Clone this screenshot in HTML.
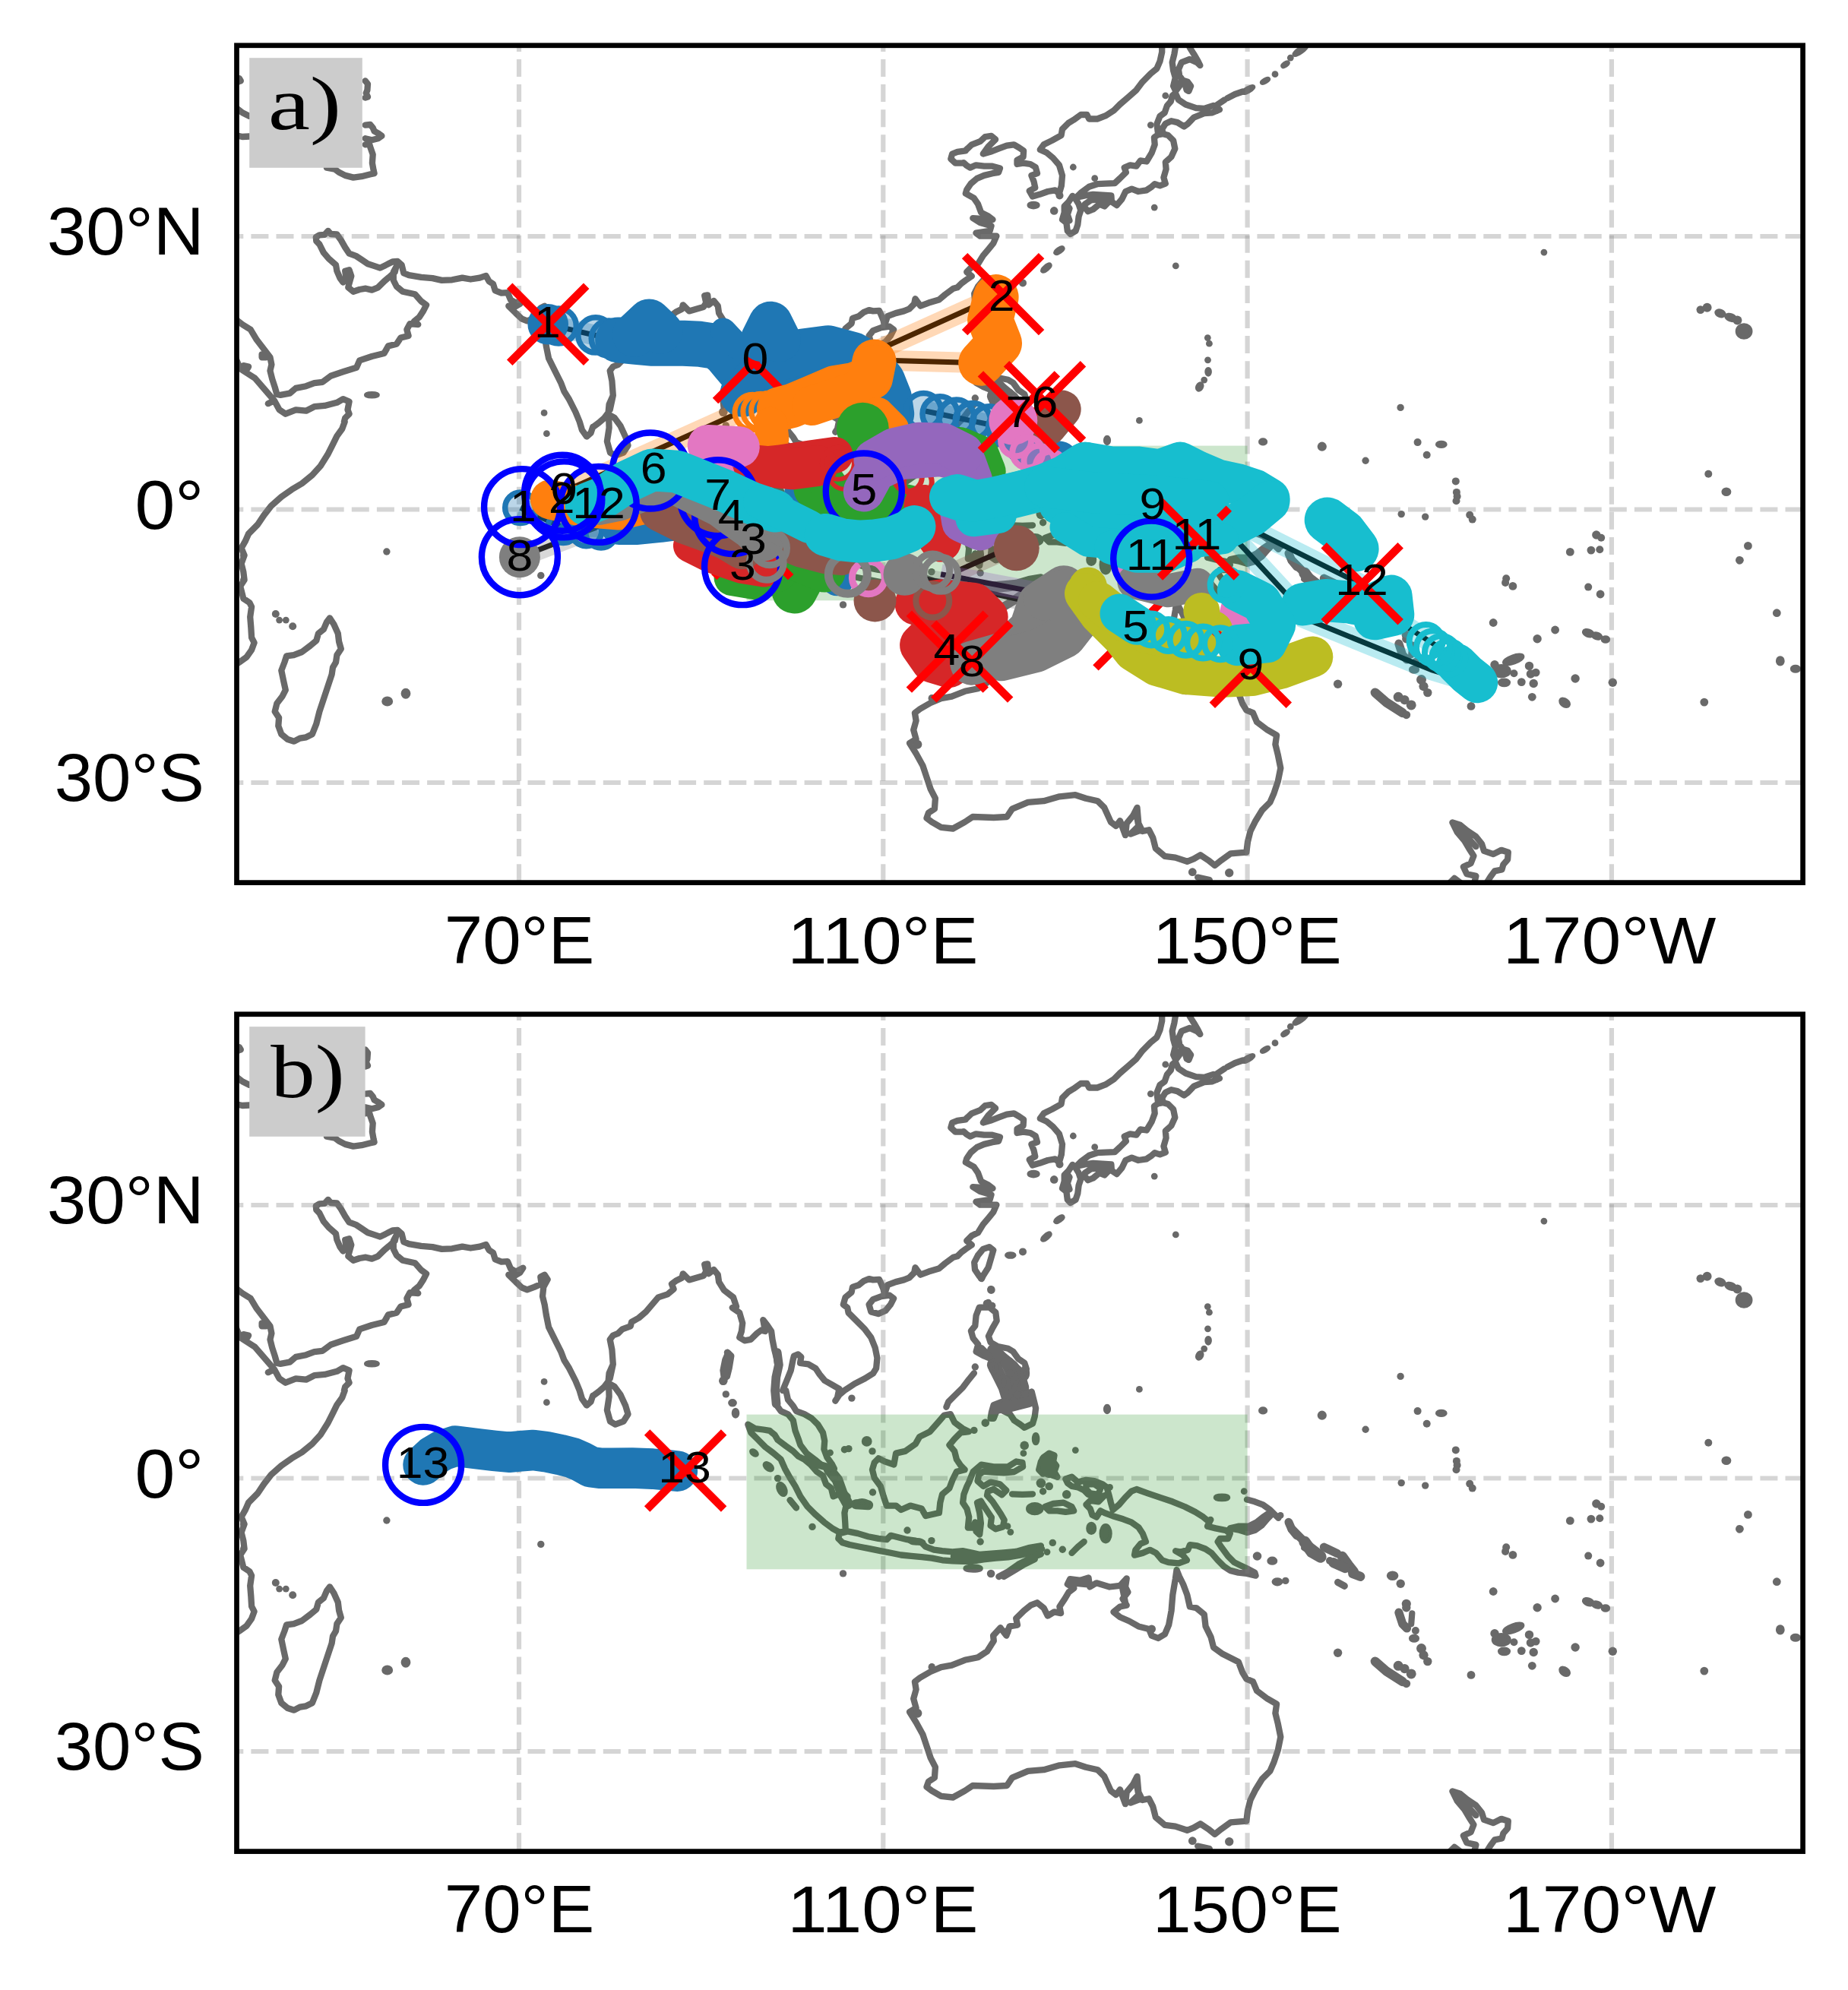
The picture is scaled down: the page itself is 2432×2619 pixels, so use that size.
<!DOCTYPE html>
<html><head><meta charset="utf-8"><title>figure</title>
<style>
html,body{margin:0;padding:0;background:#fff}
svg{display:block}
.c{fill:none;stroke:#696969;stroke-width:8.3;stroke-linejoin:round;stroke-linecap:round}
.e{fill:#696969;stroke:#696969;stroke-width:5}
.d{fill:#696969}
.g{fill:none;stroke:#808080;stroke-opacity:.33;stroke-width:6.2;stroke-dasharray:23 10.1}
.s{font-family:"Liberation Sans",sans-serif;fill:#000}
.f{font-family:"Liberation Serif",serif;fill:#000}
</style></head><body>
<svg width="2432" height="2619" viewBox="0 0 2432 2619">
<defs>
<clipPath id="clipa"><rect x="311.5" y="59.8" width="2061.1" height="1101.8"/></clipPath>
<clipPath id="clipb"><rect x="311.5" y="1334.8" width="2061.1" height="1101.8"/></clipPath>
<g id="coast">
<path class="c" d="M480.7,1381.4 484,1385.5 483.4,1393.6 481.8,1397.6 484,1402.5 480.7,1403.6M480.7,1439.6 487.2,1439 490.7,1443.1 492.6,1447.7 498.9,1451.2 502.4,1453.9 497.5,1457.2 489.4,1459.3 480.7,1457.2M480.7,1465.3 486.1,1464.7 488,1470.7 490.7,1478.3 489.9,1489.6 491.6,1499.1 492.6,1503.2 486.7,1504.5 475.9,1507.2 465,1508.6 454.2,1505.9 446.1,1501.8 440.7,1497.7 429.9,1495.6M310.3,1378.7 314.9,1378.2 316.8,1381.4 313.5,1382.8M310.3,1416.6 318.9,1423.3 328.4,1427.9M310.3,1453.1 318.9,1455 328.4,1454.5M416.3,1592.4 415.8,1587 420.4,1584.3 427.2,1583.8 431.8,1578.9 435.3,1583 443.4,1583.5 448.8,1591.1 454.2,1600.6 459.6,1608.7 469.1,1612.2 475.9,1616.8 484,1622.2 492.1,1624.9 500.2,1627.6 508.3,1623.6 516.5,1619.5 523.2,1619 528.6,1623.6 531.3,1634.4 538.1,1637.1 554.3,1639.8 569.2,1641.1 581.4,1643.9 594.9,1643.3 608.4,1640.6 619.3,1642.5 631.4,1640.6 639.6,1637.9 643.6,1645.2 649,1648.7 651.7,1657.4 659.8,1660.6 668,1660.1 672,1669.6 678.8,1673.6 688.3,1668.7 684.2,1675 677.4,1679 669.3,1677.7 678.8,1687.1 686.9,1694.7 693.7,1697.4 703.1,1693.9 712.6,1689.8 711.3,1680.4 716.7,1677.7 720.7,1683.9 715.3,1693.9 714,1706.1 716.7,1716.9 718.8,1730.4 722.1,1746.7 728.8,1760.2 732.9,1768.3 738.3,1779.1 742.4,1790 749.1,1800.8 757.3,1817 762.7,1830M416.3,1592.4 420.4,1596.5 425.8,1607.3 432.6,1615.4 442,1623.6 443.4,1631.7 447.5,1641.1 451.5,1646.6 455.6,1641.1 454.2,1631.7 459.6,1630.3 462.3,1638.4 459.6,1647.9 458.3,1653.3 465,1658.7 473.2,1656 481.3,1654.7 489.4,1656.6 497.5,1653.3 505.6,1645.2 513.7,1638.4 519.7,1633 521.3,1626.3 517.8,1633 517.8,1643.9 521.9,1652 530,1658.7 546.2,1662.3 554.3,1671.5 561.1,1676.3 557,1684.4 551.6,1692.6 544.9,1698 550.3,1702 539.4,1701.2 535.4,1708.8 537.6,1716.9 527.3,1719.6 521.9,1727.7 511,1730.4 505.6,1739.9 489.4,1744 473.2,1749.4 469.1,1758.8 451.5,1764.3 435.3,1769.7 424.5,1777.8 413.6,1779.1 402.8,1783.2 389.3,1785.9 381.2,1792.7 369,1794.8 364.4,1794 361.7,1784.5 358.2,1773.7 355.5,1762.9 357.4,1754.8 355.5,1745.3 347.3,1734.5 337.9,1722.3 329.8,1708.8 318.9,1702 310.3,1695.3M344.6,1741.3 350.1,1741.3 350.1,1745.3 344.6,1745.3 344.6,1741.3ZM310.3,1746.7 316.2,1760.2 324.4,1765.6 335.2,1772.4 344.6,1783.2 352.8,1792.7 360.9,1802.1 352.8,1806.2 360.9,1802.1 367.6,1814.3 375.8,1819.7 389.3,1814.3 402.8,1815.7 413.6,1810.2 427.2,1808.9 443.4,1804.8 451.5,1800.2 459.6,1803.5 457.5,1814.3 459.6,1819.7 454.2,1825.1 452.9,1830M320.3,1756.1 327.1,1757.5 325.7,1760.2 320.3,1758.8M802.7,1814.3 806.8,1795.4 805.4,1776.4 802.7,1762.9 806.8,1757.5 813.5,1754.8 818.9,1749.4 829.8,1745.3 831.1,1739.9 840.6,1734.5 850.1,1726.4 858.2,1716.9 866.3,1707.4 878.5,1703.4 886.6,1696.6 883.9,1689.8 889.3,1685.8 897.4,1681.7 898.8,1676.3 906.9,1684.4 916.3,1681.7 925.8,1679 929.3,1673.6 927.2,1664.1 931.2,1663.3 932.6,1676.3 939.3,1670.9 944.8,1677.7 946.1,1687.1 952.9,1698 965,1707.4 969.1,1719.6 963.7,1721 973.2,1727.7 977.2,1741.3 975.9,1752.1 973.2,1760.2 979.9,1764.3 988,1762.9 996.2,1754.8 1001.6,1750.7 1007,1752.1 1004.3,1737.2 1009.7,1744 1015.1,1752.1 1016.5,1762.9 1019.2,1776.4 1021.9,1787.3 1024,1800.8 1020.8,1812.4 1019.4,1830M1030,1830 1035.4,1817 1040.8,1803.5 1043.5,1790 1044.9,1784.5 1050.3,1782.4 1054.3,1785.9 1053,1794 1063.8,1795.4 1073.3,1800.8 1078.7,1808.9 1085.4,1817 1094.9,1822.4 1104.4,1827.8 1105.7,1830M1111.1,1830 1116.6,1826.5 1124.7,1821.1 1138.2,1814.3 1149,1807.5 1153.1,1800.8 1154.4,1787.3 1151.7,1773.7 1146.3,1760.2 1138.2,1749.4 1127.4,1738.5 1116.6,1727.7 1115.2,1721 1109.8,1716.9 1112.5,1707.4 1120.6,1700.7 1122,1693.9 1130.1,1691.2 1136.9,1685.8 1143.6,1683.1 1149,1684.4 1157.1,1683.9 1159.8,1689.8 1162.6,1696.6 1163.9,1703.4 1168,1691.2 1178.8,1687.1 1189.6,1684.4 1196.4,1681.7 1203.1,1675 1204.5,1668.2 1211.3,1677.7 1222.1,1673.6 1235.6,1669.6 1243.7,1662.8 1254.5,1654.7 1260,1653.3M1143.6,1716.9 1149,1710.1 1159.8,1706.1 1170.7,1704.7 1176.1,1708.8 1172,1716.9 1165.3,1725 1155.8,1729.1 1146.3,1726.4 1143.6,1716.9ZM1270.8,1473.4 1260,1474.8 1253.2,1477.5 1251.3,1484.2 1257.3,1489.6 1268.1,1489.6M958.3,1780.5 962.3,1784.5 959.6,1800.8 956.9,1811.6 952.9,1814.3 951.5,1803.5 954.2,1790 958.3,1780.5ZM1270.8,1472.9 1278.9,1465.3 1289.8,1461.2 1296.5,1455 1304.6,1453.9 1310.1,1458.5 1300.6,1468 1293.8,1477.5 1303.3,1474.8 1314.1,1470.7 1324.9,1466.6 1334.4,1465.3 1341.2,1469.3 1347.1,1473.4 1346.6,1481.5 1338.5,1485.6 1338.5,1491 1346.6,1489.6 1356,1491 1362.8,1495 1365,1503.2 1357.4,1505.9 1360.6,1514 1362.3,1522.1 1354.7,1526.2 1358.8,1533.5 1368.2,1530.8 1379,1527 1388.5,1525.3 1393.9,1529.7 1396.9,1519.4 1398,1505.9 1393.9,1492.3 1385.8,1482.9 1377.7,1476.1 1368.8,1472 1373.6,1465.3 1384.5,1459.9 1396.6,1453.1 1398,1445 1406.1,1436.9 1412.9,1432.8 1422.3,1426 1430.5,1426 1433.2,1431.5 1444,1431.5 1454.8,1427.4 1465.6,1420.6 1473.7,1412.5 1484.6,1403.1 1495.4,1393.6 1503.5,1382.8 1514.3,1371.9 1522.4,1365.2 1526.5,1355.7 1529.2,1343.5 1529.2,1337.6M1268.1,1489.1 1272.2,1492.9 1276.8,1495.6 1284.4,1492.3 1295.2,1493.7 1306,1493.7 1316,1496.4 1314.1,1501.8 1306,1503.2 1295.2,1505.9 1285.7,1509.9 1277.6,1516.7 1272.2,1524.8 1270.8,1529.7 1281.6,1535.6 1287.1,1543.7 1291.1,1554.6 1300.6,1559.4 1306.5,1564 1295.2,1563.2 1280.3,1562.1 1289.8,1568.1 1304.6,1572.2 1302.7,1578.9 1284.4,1581.6 1289.8,1585.7 1311.4,1585.7 1307.3,1595.2 1300.6,1603.3 1293.8,1611.4 1287.1,1622.2 1278.9,1626.3 1272.2,1633 1278.9,1638.4 1270.8,1643.9 1265.4,1647.9 1260,1653.3M1301.9,1641.1 1307.3,1645.2 1304.6,1654.7 1300.6,1668.2 1293.8,1679 1291.9,1683.1 1288.4,1679 1283,1670.9 1282.2,1661.4 1287.1,1652 1293.8,1643.9 1301.9,1641.1ZM1411.5,1532.9 1406.1,1541 1400.7,1546.5 1400.7,1554.6 1398,1564 1403.4,1568.1 1404.8,1578.9 1408.8,1583 1415.6,1578.9 1418.3,1570.8 1419.6,1560 1422.3,1551.9 1419.6,1543.7 1415.6,1537 1411.5,1532.9ZM1403.4,1543.7 1407.5,1549.2 1404.8,1557.3 1407.5,1565.4M1415.6,1535.6 1422.3,1528.9 1433.2,1520.7 1444,1517.2 1454.8,1516.7 1467,1516.1 1473.7,1509.9 1481.9,1501.8 1479.7,1495.6 1487.3,1492.3 1495.4,1493.7 1500.8,1486.4 1508.9,1487.5 1515.7,1476.1 1519.7,1465.3 1518.9,1455.8 1523.8,1452.3 1530.6,1451.2 1537.3,1453.1 1544.1,1459.9 1546.3,1470.7 1541.4,1481.5 1533.8,1488.3 1534.6,1497.7 1531.4,1508.6 1533.8,1516.7 1526.5,1519.4 1519.7,1517.2 1515.7,1520.7 1508.9,1525.3 1498.1,1527 1489.4,1523.7 1481.3,1527 1476.5,1537 1469.7,1545.1 1462.9,1540.5 1462.4,1532.4 1450.7,1531.6 1438.6,1530.8 1427.7,1532.4 1419.6,1534.3 1415.6,1535.6ZM1427.7,1543.7 1435.9,1538.3 1449.4,1537 1460.2,1539.7 1453.5,1546.5 1446.7,1543.7 1438.6,1550.5 1431.8,1553.2 1426.4,1546.5 1427.7,1543.7ZM1542.7,1400.9 1546.8,1397.6 1550.9,1406.3 1560.3,1412.5 1573.9,1417.1 1584.7,1417.9 1596.9,1413.9 1605,1419.3 1595.5,1423.3 1584.7,1424.2 1571.1,1429.6 1563,1438.2 1558.2,1441.5 1549.5,1436.1 1541.4,1434.2 1533.8,1437.7 1529.2,1445 1530.6,1450.4 1523.8,1449 1522.4,1438.2 1526.5,1427.9 1532.7,1423.3 1536,1413.9 1540.8,1408.5 1542.7,1400.9ZM1546.8,1337.6 1545.4,1346.2 1542.7,1357.1 1544.1,1367.9 1546.8,1377.3 1544.1,1388.2 1547.3,1394.9 1552.2,1388.2 1554.9,1380.1 1563,1382.8 1567.1,1388.2 1564.4,1394.9 1561.7,1393.6 1559,1384.1 1552.2,1374.6 1550.9,1366.5 1554.9,1357.1 1565.7,1353 1575.2,1357.1 1579.3,1361.1 1576.6,1355.7 1571.1,1346.2 1565.7,1337.6M1599.6,1414.4 1611.7,1406.3M1615,1404.4 1625.3,1399 1635.5,1395.5M453.7,1830 450.2,1839.5 443.4,1848.9 438,1859.8 431.2,1873.3 421.8,1888.2 410.9,1900.3 397.4,1911.2 383.9,1919.3 370.3,1928.8 356.8,1940.9 347.3,1953.1 339.2,1965.3 333.8,1970.7 327.1,1977.5 323,1986.9 317.6,1996.4 321.6,2005.9 317.6,2016.7 320.3,2027.5 321.6,2038.3 316.2,2046.5 320.3,2062.7 328.4,2068.1 331.1,2073.5 329.2,2087 330.3,2100.6 331.1,2114.1 334.6,2120.9 331.1,2130.3 324.4,2139.8 314.9,2146.6 310.3,2149.3M433.9,2088.4 439.3,2096.5 444.8,2108.7 446.1,2119.5 448.8,2129 443.4,2137.1 442,2146.6 438,2153.3 436.6,2162.8 431.2,2179 425.8,2195.3 420.4,2211.5 416.3,2227.7 410.9,2241.3 402.8,2245.3 394.7,2246.7 387.1,2250.7 378.5,2248 370.3,2241.3 366.3,2230.4 367.1,2219.6 361.7,2211.5 364.4,2200.7 371.7,2191.2 375.8,2183.1 373.1,2170.9 370.3,2157.4 374.4,2146.6 377.1,2138.4 386.6,2137.1 397.4,2133 408.2,2124.9 416.3,2118.1 419,2108.7 425.8,2103.3 429.9,2093.8 433.9,2088.4ZM762.7,1830 765.9,1840.8 772.1,1849.5 777.5,1844.9 780.2,1836.8M780,1837.4 788.1,1831.4 794.9,1825.5 800.6,1817.9 801.6,1807.1 806.8,1795.4M801.1,1820.6 808.4,1824.6 816.5,1835.5 823.3,1850.3 826.5,1861.2 820.6,1870.6 809.8,1874.7 803,1870.6 798.9,1855.8 801.6,1838.2 801.1,1820.6ZM957.2,1780 958.6,1788.1 955.9,1801.6 953.2,1809.8M1019.4,1830.1 1020.8,1847.6 1027.6,1857.1 1037,1861.2 1043.8,1869.3 1046.5,1882.8 1050.6,1893.6 1053.3,1901.8 1061.4,1912.6 1072.2,1920.7 1080.3,1927.5 1088.4,1931.5 1095.2,1936.9 1097.9,1932.9 1095.2,1927.5 1088.4,1918 1084.4,1907.2 1085.2,1896.3 1083,1885.5 1076.3,1874.7 1068.1,1866.6 1058.7,1861.2 1047.9,1857.1 1043.8,1850.3 1037,1842.2 1034.3,1830.1 1030,1830.1M1104.4,1827.9 1102,1839.5 1099.3,1843.6 1104.7,1835.5 1111.2,1830.1M984.3,1874.7 993.7,1880.1 1004.6,1881.5 1012.7,1882.8 1019.4,1888.2 1023.5,1895 1034.3,1903.1 1043.8,1909.9 1050.6,1916.6 1058.7,1920.7 1066.8,1927.5 1074.9,1936.9 1083,1942.3 1087.1,1953.2 1093.9,1958.6 1096.6,1969.4 1103.3,1966.7 1110.1,1964 1115.5,1969.4 1114.1,1978.9 1111.4,1991 1112.3,2004.6 1112.8,2015.4 1104.7,2016.7 1095.2,2011.3 1084.4,2003.2 1073.6,1993.7 1062.7,1982.9 1053.3,1969.4 1046.5,1955.9 1039.7,1945 1033,1932.9 1027.6,1920.7 1018.1,1912.6 1007.3,1904.5 996.5,1893.6 988.3,1885.5 984.3,1874.7ZM1039.7,1974.3 1047.9,1984.3M1103.3,2024.9 1104.7,2018.1 1115.5,2015.4 1129,2018.1 1142.6,2022.2 1156.1,2024.9 1166.9,2026.2 1172.3,2020.8 1183.1,2023.5 1194,2026.2 1204.8,2027.6 1212.9,2030.3 1218.3,2035.7 1229.1,2039.7 1240,2041.1 1253.5,2042.4 1267,2041.1 1280,2043.8M1103.3,2024.9 1108.7,2030.3 1118.2,2033 1131.7,2035.7 1145.3,2038.4 1158.8,2041.1 1172.3,2043.8 1185.8,2046.5 1199.4,2047.9 1212.9,2049.2 1226.4,2050.6 1240,2053.3 1253.5,2054.4 1267,2054.9 1280,2054.9M1156.1,1919.3 1164.2,1923.4 1176.4,1927.5 1179.1,1912.6 1191.3,1909.9 1204.8,1900.4 1210.2,1890.9 1223.7,1884.2 1234.5,1872 1242.7,1862.5 1250.8,1861.2 1256.2,1872 1267,1880.1 1275.1,1884.2 1264.3,1885.5 1256.2,1893.6 1249.4,1901.8 1256.2,1909.9 1258.9,1920.7 1264.3,1928.8 1269.7,1934.2 1258.9,1936.9 1253.5,1947.7 1249.4,1958.6 1240,1966.7 1237.3,1977.5 1235.9,1991 1223.7,1993.7 1218.3,1995.1 1212.9,1985.6 1198,1981.6 1185.8,1987 1179.1,1981.6 1166.9,1981.6 1162.8,1969.4 1158.8,1955.9 1150.7,1945 1148,1934.2 1150.7,1924.8 1156.1,1919.3ZM1288.7,1720.6 1302.2,1720.6 1310.3,1727.3 1311.7,1738.2 1306.3,1747.6 1300.9,1758.5 1303.6,1766.6 1313.1,1772 1326.6,1774.7 1333.3,1778.8 1340.1,1788.2 1348.2,1793.6 1350.9,1801.8 1346.9,1807.2 1337.4,1799 1329.3,1790.9 1318.5,1788.2 1307.6,1782.8 1300.9,1786.9 1294.1,1784.2 1284.6,1778.8 1287.3,1769.3 1280.6,1761.2 1277.9,1751.7 1283.3,1744.9 1284.6,1731.4 1288.7,1720.6ZM1304.9,1858.6 1307.6,1849.1 1318.5,1845 1329.3,1842.3 1340.1,1838.3 1350.9,1834.2 1357.7,1831.5 1360.4,1842.3 1363.1,1853.2 1361.8,1864 1359,1873.5 1348.2,1878.9 1342.8,1874.8 1334.7,1869.4 1329.3,1861.3 1321.2,1857.2 1313.1,1853.2 1307.6,1866.7 1303.6,1866.7 1304.9,1858.6ZM1281.9,1807.2 1275.2,1815.3 1267.1,1826.1 1256.2,1836.9 1248.1,1845 1245.4,1851.8M1275.2,1950.6 1280.6,1937 1291.4,1927.6 1307.6,1930.3 1326.6,1930.3 1337.4,1923.5 1345.5,1924.9 1346.1,1930.3 1334.7,1937 1321.2,1938.4 1307.6,1937.6 1294.1,1936.5 1288.2,1941.1 1286.5,1949.2 1294.1,1956 1303.6,1950.6 1315.8,1953.3 1324.4,1961.4 1318.5,1967.3 1307.6,1960 1300.1,1962.7 1299,1968.1 1306.3,1976.3 1311.7,1984.4 1317.1,1992.5 1321.7,2000.6 1319.8,2009.5 1310.3,2012.3 1303.6,2007.9 1304.9,1997.1 1299.5,1989 1294.1,1980.9 1290.9,1975.5 1286,1977.6 1289.2,1991.1 1290.9,2004.7 1289.2,2019.6 1284.6,2015.5 1283.3,2003.3 1280.6,2010.6 1273.8,2010.6 1275.2,1996.6 1272.5,1985.7 1267.1,1977.6 1268.4,1966.8 1272.5,1956 1275.2,1950.6ZM1332,1966.3 1345.5,1966.8 1359,1966.3M1380.7,1912.7 1387.5,1915.4 1386.1,1923.5 1390.2,1928.9 1387.5,1937 1391.5,1943.8 1383.4,1941.1 1378,1934.3 1372.6,1939.7 1367.2,1934.3 1369.9,1923.5 1375.3,1916.7 1380.7,1912.7ZM1378,1918.1 1379.3,1934.3M1375.3,1983 1386.1,1979 1399.6,1977.6 1410.5,1983 1413.2,1988.4 1402.3,1989.8 1391.5,1988.4 1380.7,1988.4 1375.3,1983ZM1402.3,1946.5 1410.5,1943.8 1418.6,1950.6 1429.4,1947.9 1440.2,1949.2 1451,1953.3 1456.5,1957.3 1459.2,1966.8 1461.9,1977.6 1464.6,1987.1 1472.7,1980.3 1480.8,1970.9 1488.9,1962.7 1495.7,1960 1510.6,1965.4 1526.8,1970.9 1543,1976.3 1559.3,1983 1572.8,1989.8 1583.6,1996.6 1591.7,2003.3 1589,2008.7 1599.8,2011.4 1613.4,2014.1 1618.8,2018.2 1616.1,2025 1605.3,2025 1602.6,2029 1608,2037.1 1616.1,2048 1624.2,2056.1 1632.3,2060.1 1641,2064.2 1651.3,2069.6 1652.6,2073.7 1641,2071 1629.6,2069.6 1618.8,2066.9 1610.7,2061.5 1602.6,2053.4 1594.4,2043.9 1586.3,2038.5 1575.5,2034.4 1566,2033.1 1563.3,2039.8 1553.9,2042.6 1547.1,2041.2 1556.6,2046.6 1562,2053.4 1551.1,2057.4 1537.6,2056.1 1529.5,2053.4 1521.4,2043.9 1513.3,2039.8 1503.8,2043.9 1493,2046.6 1494.3,2039.8 1501.1,2031.7 1507.9,2029 1503.8,2018.2 1498.4,2010.1 1488.9,2003.3 1478.1,1999.3 1464.6,1995.2 1453.7,1991.1 1448.3,1988.4 1442.9,1996.6 1437.5,1993.9 1434.8,1985.7 1429.4,1980.3 1434.8,1974.9 1445.6,1976.3 1453.7,1968.1 1448.3,1970.9 1440.2,1969.5 1432.1,1966.8 1426.7,1961.4 1418.6,1957.3 1410.5,1956 1405,1951.9 1402.3,1946.5ZM1429.4,1953.3 1440.2,1953.3 1448.3,1958.7 1445.6,1966.8 1434.8,1965.4 1429.4,1960 1429.4,1953.3ZM1641,1973.6 1651.3,1976.3 1662.1,1980.3 1671.5,1987.1 1678.3,1993.9 1682.4,1997.9M1618.8,2011.4 1629.6,2013.3 1641,2016.9 1651.3,2014.1 1660.7,2007.4 1667.5,1999.3 1672.9,1993.9 1670.2,1991.1 1662.1,1996.6 1654,2003.3 1643.1,2008.7 1629.6,2008.7 1618.8,2011.4ZM1280,2043.9 1288.7,2045.8 1304.9,2044.7 1321.2,2043.4 1337.4,2042 1353.6,2037.1 1369.9,2034.4M1280,2054.7 1294.1,2052.3 1310.3,2050.7 1326.6,2049.3 1342.8,2046.6 1359,2042.6 1371.2,2038.5M1314.4,2075 1326.6,2068.3 1340.1,2058.8 1356.3,2050.7 1369.9,2045.3M1321.2,2075 1334.7,2066.9 1348.2,2058.8 1361.8,2052M1410.5,2043.9 1418.6,2035.8 1426.7,2029M1203.9,2213.2 1210.8,2208 1224.7,2200 1238.5,2194.1 1252.4,2191.7 1269.7,2184.8 1287,2181.3 1299.1,2173.3 1307.8,2159.5 1307.1,2152.6 1316.5,2142.2 1324.4,2152.6 1328.6,2140.4 1339,2138.7 1337.2,2130 1347.6,2119.7 1356.3,2112.7 1364.9,2109.3 1373.6,2116.2 1378.8,2126.6 1387.4,2121.4 1396.1,2123.1 1394.4,2114.5 1401.3,2104.1 1406.5,2095.4 1413.4,2090.2 1404.8,2085 1408.2,2078.1 1422.1,2079.8 1432.5,2076.4 1434.2,2088.5 1442.9,2083.3 1460.2,2088.5 1474,2086.8 1482.7,2077.4 1481,2088.5 1484.4,2095.4 1477.5,2104.1 1482.7,2112.7 1474,2114.5 1465.4,2121.4 1474,2128.3 1486.1,2133.5 1498.3,2140.4 1512.1,2143.9 1515.6,2152.6 1524.2,2156 1532.9,2150.8 1538.1,2138.7 1541.6,2119.7 1543.3,2098.9 1546.8,2078.1 1548.5,2066 1551.9,2074.6 1557.1,2085 1562.3,2098.9 1565.8,2114.5 1574.5,2116.2 1584.8,2124.8 1586.6,2140.4 1593.5,2154.3 1597,2168.1 1609.1,2176.8 1619.5,2182 1629.9,2187.2 1635.1,2201 1640.3,2209.7 1648.9,2213.2 1654.1,2225.3 1668,2235.7 1680.1,2242.6 1678.4,2254.7 1681.8,2268.6 1685.3,2285.9 1681.8,2303.2 1676.6,2318.8 1671.4,2330.9 1661,2341.3 1652.4,2355.2 1645.5,2369 1642,2382.9 1640.3,2396.7 1619.5,2398.4 1607.4,2407.1 1598.7,2414 1590,2407.1 1579.7,2400.2 1571,2405.4 1562.3,2408.8 1546.8,2403.6 1532.9,2401.9 1520.8,2391.5 1517.3,2377.7 1512.1,2367.3 1503.5,2369 1498.3,2358.6 1496.5,2337.8 1491.3,2348.2 1482.7,2358.6 1481,2374.2 1474,2355.2 1468.8,2362.1 1461.9,2356.9 1453.2,2337.8 1444.6,2329.2 1429,2325.7 1415.2,2321.2 1394.4,2323.3 1373.6,2329.2 1352.8,2330.9 1332,2339.6 1325.1,2350 1307.8,2351 1280.1,2350 1269.7,2356.9 1254.1,2365.5 1238.5,2363.8 1226.4,2356.9 1219.5,2351.7 1221.9,2344.8 1229.9,2339.6 1230.9,2325.7 1224.7,2313.6 1219.5,2298 1214.3,2282.4 1205.6,2266.8 1197,2253 1205.6,2247.8 1202.2,2235.7 1205.6,2223.5 1203.9,2213.2ZM1494.8,2341.3 1498.3,2362.1 1487.9,2372.5 1501.7,2367.3M1576.2,2429.6 1591.8,2433.1M1477.5,2091.9 1481,2109.3M1411.7,2083.3 1429,2085M1911.4,2357.4 1921.6,2360.8 1931.1,2368.4 1942.4,2376 1950,2385.5 1953,2394.9 1965.2,2399.1 1975.8,2393.8 1984.8,2396.8 1984.1,2406.3 1978.4,2412.7 1976.5,2419.5 1967,2421.4 1961.4,2429 1954.5,2440M1911.4,2357.4 1917.8,2370.3 1927.3,2381.7 1934.1,2393 1939.4,2401.4 1935.6,2411.2 1925.8,2415.8 1930.3,2425.2 1942.4,2427.9 1939.4,2440M1921.6,2366.5 1942.4,2389.2M1906.4,2438.5 1914,2430.9 1921.6,2436.6 1923.5,2440"/>
<path class="c" style="stroke-width:11.7" d="M1022.7,1780 1024.9,1796.2 1021.3,1812.5 1020,1830.1 1021.6,1847.6"/>
<path class="c" style="stroke-width:14.6" d="M1091.1,1934.2 1102,1947.7 1108.7,1966.7 1115.5,1978.9"/>
<path class="c" style="stroke-width:10.2" d="M1066.8,1924.8 1091.1,1931.5"/>
<path class="c" style="stroke-width:13.1" d="M1126.3,1979.7 1142.6,1980.8"/>
<path class="c" style="stroke-width:8.8" d="M957.2,1780 958.6,1788.1 955.9,1801.6 953.7,1809.2"/>
<path class="c" style="stroke-width:8" d="M1039.7,1974.3 1047.9,1984.3"/>
<path class="c" style="stroke-width:8" d="M1198,2027.6 1214.3,2030.3"/>
<path class="c" style="stroke-width:17.5" d="M1307.6,1777.4 1318.5,1788.2 1332,1799 1341.5,1812.6 1345.5,1826.1 1344.2,1839.6"/>
<path class="c" style="stroke-width:17.5" d="M1307.6,1796.3 1315.8,1812.6 1322.5,1826.1 1326.6,1839.6"/>
<path class="c" style="stroke-width:14.6" d="M1323.9,1793.6 1332,1809.9 1336,1826.1 1337.4,1836.9"/>
<path class="c" style="stroke-width:14.6" d="M1313.1,1853.2 1332,1850.5 1353.6,1845"/>
<path class="c" style="stroke-width:9.5" d="M1291.4,1774.7 1302.2,1785.5"/>
<path class="c" style="stroke-width:19" d="M1376.6,1922.2 1380.7,1935.7"/>
<path class="c" style="stroke-width:11" d="M1695.9,2003.3 1700,2012.8 1706.7,2020.9"/>
<path class="c" style="stroke-width:9.5" d="M1710.8,2023.6 1724.3,2034.4 1740,2046.6"/>
<path class="c" style="stroke-width:8" d="M1716.2,2037.1 1727,2043.9"/>
<path class="c" style="stroke-width:11" d="M1256.2,2048.5 1294.1,2048.5 1329.3,2045.8 1359,2039.8"/>
<path class="c" style="stroke-width:11.2" d="M1700,2012.3 1713.3,2025.6"/>
<path class="c" style="stroke-width:15.3" d="M1717,2029.4 1726.5,2042.7 1737.9,2049.1"/>
<path class="c" style="stroke-width:11.2" d="M1742.4,2036.2 1759.8,2044.5"/>
<path class="c" style="stroke-width:13.3" d="M1766.3,2048.3 1775.8,2061.6 1781.4,2068.4"/>
<path class="c" style="stroke-width:13.3" d="M1754.9,2056.7 1770.1,2063.5"/>
<path class="c" style="stroke-width:12.3" d="M1780.3,2071.1 1790.2,2074.8"/>
<path class="c" style="stroke-width:9.2" d="M1760.6,2082.4 1769.3,2087.3"/>
<path class="c" style="stroke-width:12.3" d="M1809.8,2186.6 1825,2199.8 1845.8,2213.1"/>
<path class="c" style="stroke-width:11.2" d="M1840.9,2122.2 1845.8,2137.3 1851.5,2143"/>
<path class="c" style="stroke-width:8.2" d="M1858.3,2123.3 1857.2,2137.3"/>
<ellipse class="e" cx="489.4" cy="1794.8" rx="8" ry="2.3"/>
<ellipse class="e" cx="1360.1" cy="1545.1" rx="6.1" ry="2.8"/>
<ellipse class="e" cx="1642.8" cy="1393" rx="8" ry="2.3" transform="rotate(-30 1642.8 1393)"/>
<ellipse class="e" cx="1665" cy="1381.4" rx="5.3" ry="1.7" transform="rotate(-30 1665 1381.4)"/>
<ellipse class="e" cx="1691.5" cy="1359.8" rx="4.5" ry="1.7" transform="rotate(-35 1691.5 1359.8)"/>
<ellipse class="e" cx="1711.3" cy="1341.4" rx="9.9" ry="2.6" transform="rotate(-35 1711.3 1341.4)"/>
<ellipse class="e" cx="1393.9" cy="1604.6" rx="6.1" ry="2.3" transform="rotate(-35 1393.9 1604.6)"/>
<ellipse class="e" cx="1376.9" cy="1627.6" rx="6.6" ry="2.3" transform="rotate(-40 1376.9 1627.6)"/>
<ellipse class="e" cx="1329.8" cy="1652" rx="5.3" ry="2.3"/>
<ellipse class="e" cx="1590.1" cy="1764.3" rx="2.3" ry="3.9"/>
<ellipse class="e" cx="1578.7" cy="1784" rx="2.8" ry="4.5" transform="rotate(30 1578.7 1784)"/>
<ellipse class="e" cx="2263.9" cy="1687.4" rx="5.4" ry="3.3" transform="rotate(20 2263.9 1687.4)"/>
<ellipse class="e" cx="2277.7" cy="1692.9" rx="6.1" ry="3.3" transform="rotate(20 2277.7 1692.9)"/>
<ellipse class="e" cx="2295.1" cy="1711" rx="8.9" ry="8.2"/>
<ellipse class="e" cx="1896.8" cy="1859.9" rx="5.4" ry="2.7"/>
<ellipse class="e" cx="2271.9" cy="1922.2" rx="4" ry="3.3"/>
<ellipse class="e" cx="509.7" cy="2198" rx="5" ry="3.9"/>
<ellipse class="e" cx="534" cy="2187.7" rx="3.9" ry="4.5"/>
<ellipse class="e" cx="992.4" cy="1912" rx="4.5" ry="2.3" transform="rotate(35 992.4 1912)"/>
<ellipse class="e" cx="1011.3" cy="1930.2" rx="6.1" ry="3.4" transform="rotate(40 1011.3 1930.2)"/>
<ellipse class="e" cx="1028.9" cy="1959.9" rx="4.5" ry="8" transform="rotate(-25 1028.9 1959.9)"/>
<ellipse class="e" cx="1134.4" cy="1978.9" rx="8" ry="4.5"/>
<ellipse class="e" cx="964" cy="1846.3" rx="3.4" ry="2.8"/>
<ellipse class="e" cx="968" cy="1859.8" rx="2.8" ry="4.5"/>
<ellipse class="e" cx="1206.1" cy="2028.9" rx="8" ry="2.3"/>
<ellipse class="e" cx="1307.6" cy="1800.4" rx="3.9" ry="6.1"/>
<ellipse class="e" cx="1321.2" cy="1818" rx="6.1" ry="6.6"/>
<ellipse class="e" cx="1327.1" cy="1831.5" rx="2.8" ry="8"/>
<ellipse class="e" cx="1335.2" cy="1826.1" rx="1" ry="8" transform="rotate(20 1335.2 1826.1)"/>
<ellipse class="e" cx="1346.9" cy="1820.7" rx="2" ry="8"/>
<ellipse class="e" cx="1348.8" cy="1807.2" rx="3.9" ry="7.2"/>
<ellipse class="e" cx="1329.3" cy="1807.2" rx="3.4" ry="2.3"/>
<ellipse class="e" cx="1338.8" cy="1835.6" rx="2.8" ry="2.3"/>
<ellipse class="e" cx="1363.1" cy="1893.7" rx="2.8" ry="6.1"/>
<ellipse class="e" cx="1361.8" cy="1985.7" rx="9.3" ry="6.1"/>
<ellipse class="e" cx="1455.1" cy="2018.2" rx="6.1" ry="10.7"/>
<ellipse class="e" cx="1436.2" cy="2011.4" rx="4.5" ry="6.1"/>
<ellipse class="e" cx="1280.6" cy="2064.2" rx="10.7" ry="3.1"/>
<ellipse class="e" cx="1457" cy="1854.5" rx="2.6" ry="4.2"/>
<ellipse class="e" cx="1662.1" cy="1856.4" rx="3.6" ry="2.6"/>
<ellipse class="e" cx="1608" cy="1970.9" rx="8.8" ry="2.8"/>
<ellipse class="e" cx="1674.3" cy="2054.2" rx="4.5" ry="3.1"/>
<ellipse class="e" cx="1681" cy="2081.8" rx="5" ry="3.1"/>
<ellipse class="e" cx="1832.6" cy="2073.7" rx="5.3" ry="3.8"/>
<ellipse class="e" cx="1861" cy="2156.3" rx="4.6" ry="3"/>
<ellipse class="e" cx="1975.8" cy="2158.2" rx="10.6" ry="6.8"/>
<ellipse class="e" cx="1991.7" cy="2143" rx="12.9" ry="4.2" transform="rotate(-20 1991.7 2143)"/>
<ellipse class="e" cx="1979.5" cy="2173.3" rx="6.1" ry="3.4"/>
<ellipse class="e" cx="2059.1" cy="2199.8" rx="6.1" ry="3.8" transform="rotate(35 2059.1 2199.8)"/>
<ellipse class="e" cx="2090.2" cy="2108.2" rx="6.1" ry="3.4" transform="rotate(20 2090.2 2108.2)"/>
<ellipse class="e" cx="2101.5" cy="2112" rx="5.3" ry="3" transform="rotate(15 2101.5 2112)"/>
<ellipse class="e" cx="2112.9" cy="2116.5" rx="3.8" ry="2.7"/>
<ellipse class="e" cx="2342.8" cy="2144.9" rx="3.4" ry="4.2"/>
<ellipse class="e" cx="2362.9" cy="2155.2" rx="4.6" ry="3"/>
<circle class="d" cx="716.1" cy="1818.4" r="4.4"/>
<circle class="d" cx="951.5" cy="1818.4" r="4.4"/>
<circle class="d" cx="1387.2" cy="1552.4" r="5.3"/>
<circle class="d" cx="1394.5" cy="1532.4" r="5"/>
<circle class="d" cx="1533.8" cy="1400.9" r="4.4"/>
<circle class="d" cx="1678" cy="1372.7" r="4.4"/>
<circle class="d" cx="1698.3" cy="1351.1" r="4.4"/>
<circle class="d" cx="1346" cy="1647.4" r="5"/>
<circle class="d" cx="1412.3" cy="1495" r="4.4"/>
<circle class="d" cx="1440.7" cy="1509.7" r="4.4"/>
<circle class="d" cx="1519.2" cy="1548.1" r="4.4"/>
<circle class="d" cx="1547.3" cy="1624.9" r="4.4"/>
<circle class="d" cx="1589.3" cy="1719.6" r="4.4"/>
<circle class="d" cx="1591.4" cy="1727.2" r="4.4"/>
<circle class="d" cx="1589.5" cy="1748.8" r="4.4"/>
<circle class="d" cx="1584.7" cy="1775.1" r="4.4"/>
<circle class="d" cx="1499.4" cy="1828.4" r="4.4"/>
<circle class="d" cx="1304.1" cy="1696.6" r="4.7"/>
<circle class="d" cx="1300.6" cy="1714.2" r="4.4"/>
<circle class="d" cx="1306" cy="1718.3" r="4.4"/>
<circle class="d" cx="1514.3" cy="1439.6" r="4.4"/>
<circle class="d" cx="1600.9" cy="1420.6" r="4.4"/>
<circle class="d" cx="2237.9" cy="1682.6" r="5.4"/>
<circle class="d" cx="2246.6" cy="1679.8" r="6"/>
<circle class="d" cx="2286.4" cy="1696.4" r="6"/>
<circle class="d" cx="2031.9" cy="1607.1" r="4.4"/>
<circle class="d" cx="1843.1" cy="1811.4" r="4.7"/>
<circle class="d" cx="1865.6" cy="1857.1" r="5"/>
<circle class="d" cx="1877.7" cy="1873.7" r="5"/>
<circle class="d" cx="1797.1" cy="1881.3" r="4.7"/>
<circle class="d" cx="1915.8" cy="1908.4" r="5"/>
<circle class="d" cx="1916.9" cy="1922.9" r="5"/>
<circle class="d" cx="1917.6" cy="1928.4" r="5"/>
<circle class="d" cx="1916.5" cy="1934.3" r="5"/>
<circle class="d" cx="2248.3" cy="1898.7" r="5"/>
<circle class="d" cx="1844.2" cy="1951.6" r="4.7"/>
<circle class="d" cx="1875.7" cy="1955.1" r="4.7"/>
<circle class="d" cx="1934.2" cy="1952.7" r="5"/>
<circle class="d" cx="1937.7" cy="1958.6" r="5"/>
<circle class="d" cx="362.8" cy="2083" r="5"/>
<circle class="d" cx="367.6" cy="2091.1" r="4.4"/>
<circle class="d" cx="376.3" cy="2091.1" r="4.4"/>
<circle class="d" cx="385.2" cy="2099.2" r="5"/>
<circle class="d" cx="508.9" cy="2001" r="4.7"/>
<circle class="d" cx="719.4" cy="1845.7" r="4.4"/>
<circle class="d" cx="711.8" cy="2032.4" r="4.7"/>
<circle class="d" cx="320.3" cy="2005.9" r="4.4"/>
<circle class="d" cx="320.3" cy="2038.3" r="4.4"/>
<circle class="d" cx="951.8" cy="1817.3" r="5.8"/>
<circle class="d" cx="955.3" cy="1834.9" r="4.7"/>
<circle class="d" cx="1023.5" cy="1945.6" r="4.7"/>
<circle class="d" cx="1069" cy="2009.4" r="4.7"/>
<circle class="d" cx="1148.5" cy="1964" r="4.7"/>
<circle class="d" cx="1140.7" cy="1896.9" r="6.9"/>
<circle class="d" cx="1148" cy="1909.9" r="4.7"/>
<circle class="d" cx="1111.4" cy="1907.7" r="4.7"/>
<circle class="d" cx="1116.9" cy="1906.6" r="4.7"/>
<circle class="d" cx="1092.5" cy="1911.8" r="4.4"/>
<circle class="d" cx="1120.9" cy="1840.1" r="4.7"/>
<circle class="d" cx="1194" cy="2014" r="4.7"/>
<circle class="d" cx="1225.9" cy="2027.6" r="4.7"/>
<circle class="d" cx="1109.5" cy="2070.9" r="4.7"/>
<circle class="d" cx="1096.6" cy="1942.3" r="6.1"/>
<circle class="d" cx="1225.9" cy="2194" r="4.4"/>
<circle class="d" cx="1291.4" cy="1682.2" r="4.7"/>
<circle class="d" cx="1304.4" cy="1697.6" r="5.3"/>
<circle class="d" cx="1298.2" cy="1715.2" r="4.4"/>
<circle class="d" cx="1304.9" cy="1717.9" r="4.4"/>
<circle class="d" cx="1283.3" cy="1799" r="4.7"/>
<circle class="d" cx="1306.3" cy="1865.3" r="5.8"/>
<circle class="d" cx="1296.8" cy="1872.6" r="5.3"/>
<circle class="d" cx="1281.9" cy="1882.4" r="4.7"/>
<circle class="d" cx="1290.1" cy="2029" r="4.7"/>
<circle class="d" cx="1326" cy="2008.7" r="4.4"/>
<circle class="d" cx="1329.8" cy="2016.3" r="4.4"/>
<circle class="d" cx="1369.9" cy="1951.9" r="6.3"/>
<circle class="d" cx="1380.7" cy="1956" r="5.3"/>
<circle class="d" cx="1372.6" cy="1962.7" r="4.7"/>
<circle class="d" cx="1403.7" cy="1966.8" r="5.8"/>
<circle class="d" cx="1348.2" cy="1902.4" r="5.8"/>
<circle class="d" cx="1346.9" cy="1912.7" r="4.4"/>
<circle class="d" cx="1415.3" cy="1908.6" r="4.4"/>
<circle class="d" cx="1385.3" cy="2030.4" r="4.7"/>
<circle class="d" cx="1398.3" cy="2039.3" r="4.7"/>
<circle class="d" cx="1378" cy="2042.6" r="4.4"/>
<circle class="d" cx="1304.1" cy="2071" r="5.3"/>
<circle class="d" cx="1637.2" cy="1962.7" r="4.4"/>
<circle class="d" cx="1685.1" cy="1994.4" r="4.4"/>
<circle class="d" cx="1654.5" cy="2048" r="5.8"/>
<circle class="d" cx="1691.8" cy="2080.4" r="4.7"/>
<circle class="d" cx="1593.1" cy="2000.1" r="4.4"/>
<circle class="d" cx="1460.5" cy="1957.3" r="4.4"/>
<circle class="d" cx="1569.3" cy="2422.7" r="5.4"/>
<circle class="d" cx="1617.7" cy="2423.7" r="5.7"/>
<circle class="d" cx="1226.4" cy="2193.4" r="4.4"/>
<circle class="d" cx="1515.6" cy="2143.9" r="5.4"/>
<circle class="d" cx="1207.4" cy="2254.7" r="6"/>
<circle class="d" cx="1325.1" cy="2147.4" r="5.4"/>
<circle class="d" cx="1739.8" cy="1862.7" r="6.1"/>
<circle class="d" cx="1843.2" cy="2084.3" r="5.7"/>
<circle class="d" cx="1850.8" cy="2110.8" r="6.1"/>
<circle class="d" cx="1850.8" cy="2115.8" r="5.7"/>
<circle class="d" cx="1862.9" cy="2146.1" r="5"/>
<circle class="d" cx="1870.5" cy="2169.5" r="6.5"/>
<circle class="d" cx="1873.5" cy="2178.3" r="6.1"/>
<circle class="d" cx="1878.8" cy="2186.6" r="5.7"/>
<circle class="d" cx="1840.2" cy="2192.3" r="6.5"/>
<circle class="d" cx="1848.5" cy="2196.1" r="6.1"/>
<circle class="d" cx="1857.2" cy="2202.9" r="6.5"/>
<circle class="d" cx="1850.8" cy="2215.8" r="5.4"/>
<circle class="d" cx="1760.6" cy="2175.2" r="5.7"/>
<circle class="d" cx="1967" cy="2149.8" r="5.7"/>
<circle class="d" cx="2012.5" cy="2151.4" r="5.7"/>
<circle class="d" cx="2014.4" cy="2162" r="5.7"/>
<circle class="d" cx="2021.2" cy="2160.1" r="5.4"/>
<circle class="d" cx="2002.3" cy="2172.6" r="5.4"/>
<circle class="d" cx="2018.2" cy="2174.5" r="5.7"/>
<circle class="d" cx="2016.3" cy="2192.3" r="5.4"/>
<circle class="d" cx="1992.4" cy="2161.2" r="5"/>
<circle class="d" cx="2073.1" cy="2168" r="5.7"/>
<circle class="d" cx="2122.3" cy="2173.3" r="5.7"/>
<circle class="d" cx="2046.6" cy="2104" r="5.4"/>
<circle class="d" cx="2023.1" cy="2115.8" r="5.7"/>
<circle class="d" cx="1965.2" cy="2094.5" r="5.4"/>
<circle class="d" cx="1982.2" cy="2036.2" r="5"/>
<circle class="d" cx="1981.1" cy="2041.9" r="5"/>
<circle class="d" cx="1990.9" cy="2046.4" r="5.4"/>
<circle class="d" cx="2100.8" cy="1979" r="5.7"/>
<circle class="d" cx="2107.2" cy="1982.8" r="5"/>
<circle class="d" cx="2093.9" cy="1999.1" r="5.4"/>
<circle class="d" cx="2105.3" cy="1998.3" r="5"/>
<circle class="d" cx="2066.3" cy="2001.4" r="5.4"/>
<circle class="d" cx="2090.2" cy="2047.6" r="5"/>
<circle class="d" cx="2106.1" cy="2057" r="5.4"/>
<circle class="d" cx="2300.4" cy="1993.4" r="5.4"/>
<circle class="d" cx="2289.4" cy="2012.3" r="5.4"/>
<circle class="d" cx="2338.3" cy="2081.7" r="5.4"/>
<circle class="d" cx="2242.8" cy="2199.1" r="5.4"/>
<circle class="d" cx="1750" cy="2054" r="5"/>
<circle class="d" cx="1936" cy="2204.4" r="5.4"/>
</g>
</defs>
<rect width="2432" height="2619" fill="#fff"/>
<g clip-path="url(#clipa)">
<use href="#coast" transform="translate(0,-1275)"/>
<path class="g" d="M683,59.8V1161.6" stroke-dashoffset="14.9"/>
<path class="g" d="M1162.3,59.8V1161.6" stroke-dashoffset="14.9"/>
<path class="g" d="M1641.6,59.8V1161.6" stroke-dashoffset="14.9"/>
<path class="g" d="M2120.9,59.8V1161.6" stroke-dashoffset="14.9"/>
<path class="g" d="M311.5,311H2372.6" stroke-dashoffset="14.2"/>
<path class="g" d="M311.5,670.5H2372.6" stroke-dashoffset="14.2"/>
<path class="g" d="M311.5,1030H2372.6" stroke-dashoffset="14.2"/>
<rect x="982.5" y="586.6" width="659.1" height="203.7" fill="rgb(0,128,0)" fill-opacity="0.2"/>
<path d="M721.2,426.8 800.2,445.2" fill="none" stroke="#1f77b4" stroke-opacity=".3" stroke-width="27"/><path d="M721.2,426.8 800.2,445.2" fill="none" stroke="#04263c" stroke-width="7"/>
<path d="M1215.4,540.5 1323.6,563.2" fill="none" stroke="#1f77b4" stroke-opacity=".3" stroke-width="27"/><path d="M1215.4,540.5 1323.6,563.2" fill="none" stroke="#04263c" stroke-width="7"/>
<path d="M684.9,668.2 741.2,694.2 836.5,692" fill="none" stroke="#1f77b4" stroke-opacity=".3" stroke-width="27"/><path d="M684.9,668.2 741.2,694.2 836.5,692" fill="none" stroke="#04263c" stroke-width="7"/>
<path d="M751,643 1290,400" fill="none" stroke="#ff7f0e" stroke-opacity=".3" stroke-width="27"/><path d="M751,643 1290,400" fill="none" stroke="#4d2600" stroke-width="7"/>
<path d="M1176,474.5 1265,477" fill="none" stroke="#ff7f0e" stroke-opacity=".3" stroke-width="27"/><path d="M1176,474.5 1265,477" fill="none" stroke="#4d2600" stroke-width="7"/>
<path d="M1259.7,751.5 1337.7,716.9" fill="none" stroke="#8c564b" stroke-opacity=".3" stroke-width="27"/><path d="M1259.7,751.5 1337.7,716.9" fill="none" stroke="#2a1a17" stroke-width="7"/>
<path d="M683.9,733.2 784.5,694.2" fill="none" stroke="#7f7f7f" stroke-opacity=".3" stroke-width="27"/><path d="M683.9,733.2 784.5,694.2" fill="none" stroke="#262626" stroke-width="7"/>
<path d="M1190.5,755.8 1368,794.8" fill="none" stroke="#7f7f7f" stroke-opacity=".3" stroke-width="27"/><path d="M1190.5,755.8 1368,794.8" fill="none" stroke="#262626" stroke-width="7"/>
<path d="M1238.1,755.8 1400,786.1" fill="none" stroke="#9467bd" stroke-opacity=".3" stroke-width="27"/><path d="M1238.1,755.8 1400,786.1" fill="none" stroke="#2c1f38" stroke-width="7"/>
<path d="M1641.2,693.9 1792.7,769.7" fill="none" stroke="#17becf" stroke-opacity=".3" stroke-width="27"/><path d="M1641.2,693.9 1792.7,769.7" fill="none" stroke="#06393e" stroke-width="7"/>
<path d="M1627.6,711.5 1695.3,784.6" fill="none" stroke="#17becf" stroke-opacity=".3" stroke-width="27"/><path d="M1627.6,711.5 1695.3,784.6" fill="none" stroke="#06393e" stroke-width="7"/>
<path d="M1711.5,811.6 1884.7,882 1938.8,898.2" fill="none" stroke="#17becf" stroke-opacity=".3" stroke-width="27"/><path d="M1711.5,811.6 1884.7,882 1938.8,898.2" fill="none" stroke="#06393e" stroke-width="7"/>
<path d="M1830.6,811.6 1898.2,854.9" fill="none" stroke="#17becf" stroke-opacity=".3" stroke-width="27"/><path d="M1830.6,811.6 1898.2,854.9" fill="none" stroke="#06393e" stroke-width="7"/>
<circle cx="721.2" cy="426.8" r="26.8" fill="#1f77b4"/>
<circle cx="735.2" cy="429" r="23.1" fill="#1f77b4" fill-opacity=".3" stroke="#1f77b4" stroke-width="7.5"/>
<circle cx="783.9" cy="440.9" r="23.1" fill="#1f77b4" fill-opacity=".3" stroke="#1f77b4" stroke-width="7.5"/>
<circle cx="801.3" cy="445.2" r="23.1" fill="#1f77b4" fill-opacity=".3" stroke="#1f77b4" stroke-width="7.5"/>
<path d="M813.2,447.4 834.8,449.6 856.5,451.7 878.1,451.7 899.7,451.7 921.4,452.8 943,456.1 953.9,464.7 964.7,477.7 977.7,492.9 990.6,505.8" fill="none" stroke="#1f77b4" stroke-width="60" stroke-linecap="round" stroke-linejoin="round"/>
<path d="M834.8,440.9 854.3,422.5 869.4,436.6" fill="none" stroke="#1f77b4" stroke-width="58" stroke-linecap="round" stroke-linejoin="round"/>
<path d="M992.5,501.5 1046.6,490.7 1111.5,490.7" fill="none" stroke="#1f77b4" stroke-width="60" stroke-linecap="round" stroke-linejoin="round"/>
<path d="M1024.9,471.2 1057.4,462.6 1089.9,458.2 1122.3,466.9 1144,479.9 1161.3,501.5 1170,523.2 1173.2,544.8" fill="none" stroke="#1f77b4" stroke-width="60" stroke-linecap="round" stroke-linejoin="round"/>
<circle cx="977.3" cy="518.8" r="30" fill="#1f77b4"/>
<path d="M941.5,426.5L1042.5,527.5M941.5,527.5L1042.5,426.5" stroke="#ff0000" stroke-width="10.5" fill="none"/>
<path d="M1003.3,447.4 1014.1,425.8 1024.9,447.4" fill="none" stroke="#1f77b4" stroke-width="58" stroke-linecap="round" stroke-linejoin="round"/>
<path d="M951.7,435.5 971.2,456.1" fill="none" stroke="#1f77b4" stroke-width="34" stroke-linecap="round" stroke-linejoin="round"/>
<circle cx="1215.4" cy="540.5" r="23.1" fill="#1f77b4" fill-opacity=".3" stroke="#1f77b4" stroke-width="7.5"/>
<circle cx="1237.1" cy="544.8" r="23.1" fill="#1f77b4" fill-opacity=".3" stroke="#1f77b4" stroke-width="7.5"/>
<circle cx="1258.7" cy="549.1" r="23.1" fill="#1f77b4" fill-opacity=".3" stroke="#1f77b4" stroke-width="7.5"/>
<circle cx="1280.3" cy="553.5" r="23.1" fill="#1f77b4" fill-opacity=".3" stroke="#1f77b4" stroke-width="7.5"/>
<circle cx="1302" cy="557.8" r="23.1" fill="#1f77b4" fill-opacity=".3" stroke="#1f77b4" stroke-width="7.5"/>
<circle cx="1323.6" cy="563.2" r="23.1" fill="#1f77b4" fill-opacity=".3" stroke="#1f77b4" stroke-width="7.5"/>
<path d="M1344.7,587.9 1375,599.2 1395.8,603" fill="none" stroke="#1f77b4" stroke-width="44" stroke-linecap="round" stroke-linejoin="round"/>
<circle cx="684.9" cy="668.2" r="20.2" fill="#1f77b4" fill-opacity=".3" stroke="#1f77b4" stroke-width="7.5"/>
<circle cx="723.9" cy="681.2" r="20.2" fill="#1f77b4" fill-opacity=".3" stroke="#1f77b4" stroke-width="7.5"/>
<circle cx="741.2" cy="694.2" r="20.2" fill="#1f77b4" fill-opacity=".3" stroke="#1f77b4" stroke-width="7.5"/>
<circle cx="771.5" cy="698.5" r="20.2" fill="#1f77b4" fill-opacity=".3" stroke="#1f77b4" stroke-width="7.5"/>
<circle cx="791" cy="700.7" r="20.2" fill="#1f77b4" fill-opacity=".3" stroke="#1f77b4" stroke-width="7.5"/>
<path d="M814.8,693.1 836.5,693.1 868.9,689.9 886.2,687.7" fill="none" stroke="#1f77b4" stroke-width="48" stroke-linecap="round" stroke-linejoin="round"/>
<circle cx="1054.1" cy="649.4" r="22" fill="#1f77b4"/>
<circle cx="1101.7" cy="762.3" r="22" fill="#1f77b4"/>
<circle cx="990.3" cy="542.6" r="23.3" fill="none" stroke="#ff7f0e" stroke-width="7"/>
<circle cx="1001.1" cy="541.6" r="23.3" fill="none" stroke="#ff7f0e" stroke-width="7"/>
<circle cx="1011.9" cy="540.5" r="23.3" fill="none" stroke="#ff7f0e" stroke-width="7"/>
<path d="M1150.5,475.5 1146.1,497.2 1124.5,505.8 1098.5,510.2 1068.2,523.2 1042.3,534 1024.9,538.3" fill="none" stroke="#ff7f0e" stroke-width="58" stroke-linecap="round" stroke-linejoin="round"/>
<path d="M1150.5,479.9 1133.2,512.3 1100.7,523.2 1068.2,534" fill="none" stroke="#ff7f0e" stroke-width="52" stroke-linecap="round" stroke-linejoin="round"/>
<path d="M1014.1,557.8 1016.3,577.3" fill="none" stroke="#ff7f0e" stroke-width="44" stroke-linecap="round" stroke-linejoin="round"/>
<path d="M1154.8,544.8 1174.3,564.3" fill="none" stroke="#ff7f0e" stroke-width="44" stroke-linecap="round" stroke-linejoin="round"/>
<path d="M1310.6,391.1 1303.1,421.4 1315,451.7 1291.2,477.7" fill="none" stroke="#ff7f0e" stroke-width="60" stroke-linecap="round" stroke-linejoin="round"/>
<path d="M723.9,657.4 771.5,668.2 814.8,671.5 847.3,663.9" fill="none" stroke="#ff7f0e" stroke-width="52" stroke-linecap="round" stroke-linejoin="round"/>
<circle cx="1135.3" cy="564.3" r="34.5" fill="#2ca02c"/>
<path d="M1071.4,643.3 1108.2,660.6 1140.7,664.9 1173.2,660.6 1194.8,664.9 1205.6,671.4" fill="none" stroke="#2ca02c" stroke-width="54" stroke-linecap="round" stroke-linejoin="round"/>
<path d="M1077.3,618.2 1092.4,640.9" fill="none" stroke="#2ca02c" stroke-width="48" stroke-linecap="round" stroke-linejoin="round"/>
<path d="M1263,588.1 1289,598.9 1297.7,620.6" fill="none" stroke="#2ca02c" stroke-width="52" stroke-linecap="round" stroke-linejoin="round"/>
<path d="M1064.9,740.7 1045.5,777.5" fill="none" stroke="#2ca02c" stroke-width="60" stroke-linecap="round" stroke-linejoin="round"/>
<path d="M963.6,760.2 997.7,765.9 1024.2,754.5" fill="none" stroke="#2ca02c" stroke-width="48" stroke-linecap="round" stroke-linejoin="round"/>
<path d="M1031.5,730.9 1064,743.9 1085.6,752.6" fill="none" stroke="#2ca02c" stroke-width="54" stroke-linecap="round" stroke-linejoin="round"/>
<path d="M981.6,614.1 1024.9,609.7 1068.2,603.2 1098.5,598.9" fill="none" stroke="#d62728" stroke-width="48" stroke-linecap="round" stroke-linejoin="round"/>
<path d="M1000,613 1043.3,617.3 1075.8,613" fill="none" stroke="#d62728" stroke-width="54" stroke-linecap="round" stroke-linejoin="round"/>
<circle cx="1102.9" cy="609.7" r="21" fill="none" stroke="#d62728" stroke-width="6"/>
<circle cx="1111.5" cy="622.7" r="21" fill="none" stroke="#d62728" stroke-width="6"/>
<circle cx="1194.8" cy="628.1" r="18.5" fill="none" stroke="#d62728" stroke-width="7"/>
<circle cx="1207.8" cy="634.6" r="18.5" fill="none" stroke="#d62728" stroke-width="7"/>
<path d="M939.7,658.6L1040.7,759.6M939.7,759.6L1040.7,658.6" stroke="#ff0000" stroke-width="10.5" fill="none"/>
<path d="M907.9,718 933.9,731 957.7,739.7 977.1,746.1 1005.3,750.5" fill="none" stroke="#d62728" stroke-width="44" stroke-linecap="round" stroke-linejoin="round"/>
<path d="M1216.5,664.9 1227.3,697.4 1238.1,712.6" fill="none" stroke="#d62728" stroke-width="54" stroke-linecap="round" stroke-linejoin="round"/>
<path d="M1205.6,794.8 1238.1,790.5 1281.4,794.8 1298.7,812.1 1270.6,827.3 1227.3,833.8 1212.1,848.9 1227.3,870.6 1248.9,877.1" fill="none" stroke="#d62728" stroke-width="56" stroke-linecap="round" stroke-linejoin="round"/>
<path d="M1196.3,807.1L1297.3,908.1M1196.3,908.1L1297.3,807.1" stroke="#ff0000" stroke-width="10.5" fill="none"/>
<path d="M1136.8,646.5 1151.5,619.5 1184,604.3 1238.1,600 1270.6,608.7 1279.2,632.5 1261.9,660.6 1266.2,686.6 1290,697.4" fill="none" stroke="#9467bd" stroke-width="54" stroke-linecap="round" stroke-linejoin="round"/>
<path d="M1150.5,605.4 1176.5,590.3 1208.9,582.7 1241.4,583.8 1267.4,596.8" fill="none" stroke="#9467bd" stroke-width="54" stroke-linecap="round" stroke-linejoin="round"/>
<circle cx="1560.6" cy="902.3" r="12" fill="#9467bd"/>
<path d="M868.9,672.6 901.4,688.8 933.9,700.7 955.5,709.4 977.1,722.3" fill="none" stroke="#8c564b" stroke-width="54" stroke-linecap="round" stroke-linejoin="round"/>
<circle cx="1151.5" cy="790.5" r="28" fill="#8c564b"/>
<path d="M1020.7,711.4 1053.2,724.4 1085.6,733.1 1107.3,735.2" fill="none" stroke="#8c564b" stroke-width="44" stroke-linecap="round" stroke-linejoin="round"/>
<circle cx="1337.7" cy="721.2" r="30" fill="#8c564b"/>
<circle cx="1227.3" cy="790.5" r="22" fill="none" stroke="#8c564b" stroke-width="8"/>
<path d="M1397.7,538.6 1378.8,561.4" fill="none" stroke="#8c564b" stroke-width="50" stroke-linecap="round" stroke-linejoin="round"/>
<path d="M1324.5,478.7L1425.5,579.7M1324.5,579.7L1425.5,478.7" stroke="#ff0000" stroke-width="10.5" fill="none"/>
<path d="M1441.9,777.9L1542.9,878.9M1441.9,878.9L1542.9,777.9" stroke="#ff0000" stroke-width="10.5" fill="none"/>
<circle cx="964.2" cy="679" r="50" fill="none" stroke="#0000ff" stroke-width="8.4"/>
<path d="M931.7,586 972.8,588.1" fill="none" stroke="#e377c2" stroke-width="54" stroke-linecap="round" stroke-linejoin="round"/>
<circle cx="944.7" cy="624.9" r="22" fill="#e377c2"/>
<circle cx="1142.9" cy="760.2" r="21.5" fill="none" stroke="#e377c2" stroke-width="9"/>
<circle cx="1333.3" cy="553.8" r="32" fill="#e377c2"/>
<circle cx="1337.1" cy="580.3" r="20" fill="#e377c2" fill-opacity=".3" stroke="#e377c2" stroke-width="8"/>
<circle cx="1352.3" cy="595.5" r="20" fill="#e377c2" fill-opacity=".3" stroke="#e377c2" stroke-width="8"/>
<circle cx="1367.4" cy="606.8" r="20" fill="#e377c2" fill-opacity=".3" stroke="#e377c2" stroke-width="8"/>
<circle cx="1382.6" cy="614.4" r="20" fill="#e377c2" fill-opacity=".3" stroke="#e377c2" stroke-width="8"/>
<path d="M1628.8,800 1621.2,830.3" fill="none" stroke="#e377c2" stroke-width="44" stroke-linecap="round" stroke-linejoin="round"/>
<circle cx="1477.3" cy="743.2" r="15" fill="#e377c2"/>
<path d="M1290.4,491.9L1391.4,592.9M1290.4,592.9L1391.4,491.9" stroke="#ff0000" stroke-width="10.5" fill="none"/>
<circle cx="944.7" cy="655.2" r="50" fill="none" stroke="#0000ff" stroke-width="8.4"/>
<circle cx="977.1" cy="746.1" r="50" fill="none" stroke="#0000ff" stroke-width="8.4"/>
<circle cx="683.9" cy="733.2" r="27" fill="#7f7f7f"/>
<path d="M788.8,663.9 814.8,658.5 847.3,645.5 877.6,633.6 897.1,641.2 923,654.2 949,667.1 966.3,680.1 988,695.3 1005.3,711.5" fill="none" stroke="#7f7f7f" stroke-width="54" stroke-linecap="round" stroke-linejoin="round"/>
<circle cx="1013" cy="721.2" r="22.5" fill="none" stroke="#7f7f7f" stroke-width="9"/>
<circle cx="1008.7" cy="740.7" r="22.5" fill="none" stroke="#7f7f7f" stroke-width="9"/>
<circle cx="1115.8" cy="755.8" r="25.5" fill="none" stroke="#7f7f7f" stroke-width="11"/>
<circle cx="1190.5" cy="755.8" r="28" fill="#7f7f7f"/>
<circle cx="1227.3" cy="751.5" r="22.5" fill="none" stroke="#7f7f7f" stroke-width="9"/>
<circle cx="1238.1" cy="755.8" r="22.5" fill="none" stroke="#7f7f7f" stroke-width="9"/>
<path d="M1400,773.2 1368,794.8 1357.1,827.3 1324.7,859.7 1279.2,872.7" fill="none" stroke="#7f7f7f" stroke-width="58" stroke-linecap="round" stroke-linejoin="round"/>
<path d="M1375,788.6 1401.5,777.3 1428,803.8 1401.5,837.9 1363.6,856.8 1318.2,868.2" fill="none" stroke="#7f7f7f" stroke-width="56" stroke-linecap="round" stroke-linejoin="round"/>
<path d="M1492.4,765.9 1537.9,777.3 1575.8,769.7" fill="none" stroke="#7f7f7f" stroke-width="44" stroke-linecap="round" stroke-linejoin="round"/>
<path d="M1228.7,820.1L1329.7,921.1M1228.7,921.1L1329.7,820.1" stroke="#ff0000" stroke-width="10.5" fill="none"/>
<circle cx="1431.8" cy="771.6" r="20.5" fill="none" stroke="#bcbd22" stroke-width="9"/>
<path d="M1428,781.1 1447,807.6 1477.3,837.9 1492.4,856.8 1522.7,875.8 1560.6,887.1 1609.8,890.9 1647.7,889 1685.6,879.5 1727.3,864.4" fill="none" stroke="#bcbd22" stroke-width="54" stroke-linecap="round" stroke-linejoin="round"/>
<path d="M1444.9,790.9 1477.4,816.9 1509.9,834.2 1542.3,840.7 1574.8,838.5 1596.5,829.9" fill="none" stroke="#bcbd22" stroke-width="52" stroke-linecap="round" stroke-linejoin="round"/>
<circle cx="1581.3" cy="803.9" r="24" fill="#bcbd22"/>
<circle cx="1477.3" cy="665.5" r="14" fill="#bcbd22"/>
<path d="M1595.3,827.2L1696.3,928.2M1595.3,928.2L1696.3,827.2" stroke="#ff0000" stroke-width="10.5" fill="none"/>
<circle cx="855.9" cy="619.5" r="50" fill="none" stroke="#0000ff" stroke-width="8.4"/>
<circle cx="1136.8" cy="646.5" r="50" fill="none" stroke="#0000ff" stroke-width="8.4"/>
<path d="M771.5,663.9 793.2,655.2 825.6,633.6 858.1,618.4 890.6,620.6 923,633.6 955.5,646.6 988,661.7 1020,672.6" fill="none" stroke="#17becf" stroke-width="56" stroke-linecap="round" stroke-linejoin="round"/>
<path d="M1000,660.6 1021.6,671.4 1043.3,682.3 1064.9,693.1" fill="none" stroke="#17becf" stroke-width="44" stroke-linecap="round" stroke-linejoin="round"/>
<path d="M1086.6,703.9 1108.2,710.4 1129.9,712.6 1151.5,711.5 1173.2,708.2 1194.8,699.6 1203.5,693.1" fill="none" stroke="#17becf" stroke-width="56" stroke-linecap="round" stroke-linejoin="round"/>
<path d="M1259.7,654.1 1292.2,664.9 1324.7,654.1 1368,643.3 1400,632.5" fill="none" stroke="#17becf" stroke-width="60" stroke-linecap="round" stroke-linejoin="round"/>
<path d="M1281.4,682.3 1313.9,677.9" fill="none" stroke="#17becf" stroke-width="48" stroke-linecap="round" stroke-linejoin="round"/>
<path d="M1250,654.2 1280.3,659.8 1310.6,654.2 1344.7,646.6 1375,637.1 1401.5,625.8 1428,608.7" fill="none" stroke="#17becf" stroke-width="54" stroke-linecap="round" stroke-linejoin="round"/>
<path d="M1428,608.7 1462.1,614.4 1496.2,614.4 1526.5,618.2 1553,608.7 1575.8,620.1 1602.3,631.4 1628.8,637.1 1651.5,644.7 1670.5,656.1" fill="none" stroke="#17becf" stroke-width="54" stroke-linecap="round" stroke-linejoin="round"/>
<path d="M1393.9,663.6 1439.4,686.4 1496.2,701.5 1553,701.5 1609.8,697.7 1647.7,678.8 1670.5,659.8" fill="none" stroke="#17becf" stroke-width="54" stroke-linecap="round" stroke-linejoin="round"/>
<path d="M1401.5,693.9 1431.8,712.9 1477.3,716.7 1553,716.7 1609.8,709.1" fill="none" stroke="#17becf" stroke-width="40" stroke-linecap="round" stroke-linejoin="round"/>
<path d="M1462.1,720.5 1496.2,731.8 1534.1,731.8 1564.4,718.6" fill="none" stroke="#17becf" stroke-width="44" stroke-linecap="round" stroke-linejoin="round"/>
<path d="M1375,640.9 1439.4,648.5 1515.2,652.3 1590.9,659.8" fill="none" stroke="#17becf" stroke-width="54" stroke-linecap="round" stroke-linejoin="round"/>
<path d="M1746.7,684.5 1768.3,700.7 1784.6,722.3" fill="none" stroke="#17becf" stroke-width="60" stroke-linecap="round" stroke-linejoin="round"/>
<path d="M1714.2,795.4 1744,790 1776.5,792.7 1803.5,798.1 1830.6,784.6 1833.3,808.9 1808.9,814.3" fill="none" stroke="#17becf" stroke-width="56" stroke-linecap="round" stroke-linejoin="round"/>
<path d="M1628.8,777.3 1659.1,792.4 1678,822.7 1666.7,845.5 1628.8,849.2" fill="none" stroke="#17becf" stroke-width="54" stroke-linecap="round" stroke-linejoin="round"/>
<path d="M1473.5,807.6 1496.2,822.7" fill="none" stroke="#17becf" stroke-width="52" stroke-linecap="round" stroke-linejoin="round"/>
<circle cx="1515.2" cy="828.4" r="21" fill="none" stroke="#17becf" stroke-width="8"/>
<circle cx="1537.9" cy="836" r="21" fill="none" stroke="#17becf" stroke-width="8"/>
<circle cx="1560.6" cy="841.7" r="21" fill="none" stroke="#17becf" stroke-width="8"/>
<circle cx="1583.3" cy="845.5" r="21" fill="none" stroke="#17becf" stroke-width="8"/>
<circle cx="1606.1" cy="847.3" r="21" fill="none" stroke="#17becf" stroke-width="8"/>
<circle cx="1613.6" cy="769.7" r="21" fill="none" stroke="#17becf" stroke-width="8"/>
<path d="M1917.1,873.9 1930.7,887.4 1944.2,898.2" fill="none" stroke="#17becf" stroke-width="54" stroke-linecap="round" stroke-linejoin="round"/>
<circle cx="1876.6" cy="844.1" r="22" fill="none" stroke="#17becf" stroke-width="8"/>
<circle cx="1886" cy="852.2" r="22" fill="none" stroke="#17becf" stroke-width="8"/>
<circle cx="1896.9" cy="859" r="22" fill="none" stroke="#17becf" stroke-width="8"/>
<circle cx="1906.3" cy="865.7" r="22" fill="none" stroke="#17becf" stroke-width="8"/>
<path d="M670.7,376.3L771.7,477.3M670.7,477.3L771.7,376.3" stroke="#ff0000" stroke-width="10.5" fill="none"/>
<path d="M1269.6,336.6L1370.6,437.6M1269.6,437.6L1370.6,336.6" stroke="#ff0000" stroke-width="10.5" fill="none"/>
<path d="M1742.2,717.8L1843.2,818.8M1742.2,818.8L1843.2,717.8" stroke="#ff0000" stroke-width="10.5" fill="none"/>
<path d="M1526.4,659L1627.4,760M1576.9,709.5L1526.4,760M1604.7,681.7L1617.3,669.1" stroke="#ff0000" stroke-width="10.5" fill="none"/>
<circle cx="687.1" cy="667.1" r="50" fill="none" stroke="#0000ff" stroke-width="8.4"/>
<circle cx="740.1" cy="648.7" r="50" fill="none" stroke="#0000ff" stroke-width="8.4"/>
<circle cx="742.3" cy="657.4" r="50" fill="none" stroke="#0000ff" stroke-width="8.4"/>
<circle cx="787.7" cy="663.9" r="50" fill="none" stroke="#0000ff" stroke-width="8.4"/>
<circle cx="683.9" cy="733.2" r="50" fill="none" stroke="#0000ff" stroke-width="8.4"/>
<circle cx="1515.2" cy="735.6" r="50" fill="none" stroke="#0000ff" stroke-width="8.4"/>
<text transform="translate(702.95,444.41) scale(0.6257,0.5740)" font-size="100" class="s">1</text>
<text transform="translate(976.50,492.08) scale(0.6257,0.5740)" font-size="100" class="s">0</text>
<text transform="translate(842.66,636.01) scale(0.6257,0.5740)" font-size="100" class="s">6</text>
<text transform="translate(927.31,670.64) scale(0.6257,0.5740)" font-size="100" class="s">7</text>
<text transform="translate(944.79,697.70) scale(0.6257,0.5740)" font-size="100" class="s">4</text>
<text transform="translate(974.01,729.08) scale(0.6257,0.5740)" font-size="100" class="s">3</text>
<text transform="translate(959.94,762.63) scale(0.6257,0.5740)" font-size="100" class="s">3</text>
<text transform="translate(1119.43,663.82) scale(0.6257,0.5740)" font-size="100" class="s">5</text>
<text transform="translate(671.04,685.79) scale(0.6257,0.5740)" font-size="100" class="s">1</text>
<text transform="translate(724.85,663.06) scale(0.6257,0.5740)" font-size="100" class="s">0</text>
<text transform="translate(721.69,675.26) scale(0.6257,0.5740)" font-size="100" class="s">2</text>
<text transform="translate(753.32,681.75) scale(0.6257,0.5740)" font-size="100" class="s">12</text>
<text transform="translate(666.49,750.73) scale(0.6257,0.5740)" font-size="100" class="s">8</text>
<text transform="translate(1228.47,875.14) scale(0.6257,0.5740)" font-size="100" class="s">4</text>
<text transform="translate(1261.86,890.29) scale(0.6257,0.5740)" font-size="100" class="s">8</text>
<text transform="translate(1300.82,409.03) scale(0.6257,0.5740)" font-size="100" class="s">2</text>
<text transform="translate(1323.55,562.16) scale(0.6257,0.5740)" font-size="100" class="s">7</text>
<text transform="translate(1357.40,548.90) scale(0.6257,0.5740)" font-size="100" class="s">6</text>
<text transform="translate(1499.61,683.37) scale(0.6257,0.5740)" font-size="100" class="s">9</text>
<text transform="translate(1542.44,723.14) scale(0.6257,0.5740)" font-size="100" class="s">11</text>
<text transform="translate(1481.84,749.66) scale(0.6257,0.5740)" font-size="100" class="s">11</text>
<text transform="translate(1757.18,783.48) scale(0.6257,0.5740)" font-size="100" class="s">12</text>
<text transform="translate(1476.96,844.07) scale(0.6257,0.5740)" font-size="100" class="s">5</text>
<text transform="translate(1628.39,893.59) scale(0.6257,0.5740)" font-size="100" class="s">9</text>
</g>
<rect x="311.5" y="59.8" width="2061.1" height="1101.8" fill="none" stroke="#000" stroke-width="6.7"/>
<rect x="328.2" y="76.2" width="148.6" height="144.6" fill="#cccccc"/>
<text transform="translate(352.65,170.01) scale(1.2429,1.0017)" font-size="100" class="f">a)</text>
<text transform="translate(61.73,334.91) scale(0.9262,0.8947)" font-size="100" class="s">30°N</text>
<text transform="translate(177.40,695.80) scale(0.9497,0.9046)" font-size="100" class="s">0°</text>
<text transform="translate(71.81,1054.41) scale(0.9044,0.8947)" font-size="100" class="s">30°S</text>
<text transform="translate(584.77,1268.11) scale(0.9068,0.8947)" font-size="100" class="s">70°E</text>
<text transform="translate(1036.22,1267.83) scale(0.9438,0.8749)" font-size="100" class="s">110°E</text>
<text transform="translate(1516.98,1267.83) scale(0.9096,0.8749)" font-size="100" class="s">150°E</text>
<text transform="translate(1978.02,1267.83) scale(0.9313,0.8749)" font-size="100" class="s">170°W</text>
<g clip-path="url(#clipb)">
<use href="#coast" transform="translate(0,0)"/>
<path class="g" d="M683,1334.8V2436.6" stroke-dashoffset="14.9"/>
<path class="g" d="M1162.3,1334.8V2436.6" stroke-dashoffset="14.9"/>
<path class="g" d="M1641.6,1334.8V2436.6" stroke-dashoffset="14.9"/>
<path class="g" d="M2120.9,1334.8V2436.6" stroke-dashoffset="14.9"/>
<path class="g" d="M311.5,1586H2372.6" stroke-dashoffset="14.2"/>
<path class="g" d="M311.5,1945.5H2372.6" stroke-dashoffset="14.2"/>
<path class="g" d="M311.5,2305H2372.6" stroke-dashoffset="14.2"/>
<rect x="982.5" y="1861.6" width="659.1" height="203.7" fill="rgb(0,128,0)" fill-opacity="0.2"/>
<path d="M557.1,1927.9 569.3,1916.6 582.8,1908.5 599,1903.1 615.3,1905.2 631.5,1907.1 650.5,1909.3 669.4,1911.2 685.6,1909.8 701.9,1908.5 718.1,1910.6 737,1914.4 753.3,1918.7 764.1,1923.3 777.6,1930.6 791.1,1932.3 804.7,1932.3 831.7,1932 858.8,1933.1 880.4,1935 891.3,1936.1" fill="none" stroke="#1f77b4" stroke-width="53.6" stroke-linecap="round" stroke-linejoin="round"/>
<path d="M851.6,1885L952.6,1986M851.6,1986L952.6,1885" stroke="#ff0000" stroke-width="10.5" fill="none"/>
<circle cx="557.1" cy="1927.9" r="50" fill="none" stroke="#0000ff" stroke-width="8.4"/>
<text transform="translate(521.76,1944.73) scale(0.6257,0.5740)" font-size="100" class="s">13</text>
<text transform="translate(866.26,1951.23) scale(0.6257,0.5740)" font-size="100" class="s">13</text>
</g>
<rect x="311.5" y="1334.8" width="2061.1" height="1101.8" fill="none" stroke="#000" stroke-width="6.7"/>
<rect x="328.2" y="1351.2" width="152.4" height="144.6" fill="#cccccc"/>
<text transform="translate(356.30,1444.39) scale(1.1709,0.9840)" font-size="100" class="f">b)</text>
<text transform="translate(61.73,1609.91) scale(0.9262,0.8947)" font-size="100" class="s">30°N</text>
<text transform="translate(177.40,1970.80) scale(0.9497,0.9046)" font-size="100" class="s">0°</text>
<text transform="translate(71.81,2329.41) scale(0.9044,0.8947)" font-size="100" class="s">30°S</text>
<text transform="translate(584.77,2543.11) scale(0.9068,0.8947)" font-size="100" class="s">70°E</text>
<text transform="translate(1036.22,2542.83) scale(0.9438,0.8749)" font-size="100" class="s">110°E</text>
<text transform="translate(1516.98,2542.83) scale(0.9096,0.8749)" font-size="100" class="s">150°E</text>
<text transform="translate(1978.02,2542.83) scale(0.9313,0.8749)" font-size="100" class="s">170°W</text>
</svg>
</body></html>
